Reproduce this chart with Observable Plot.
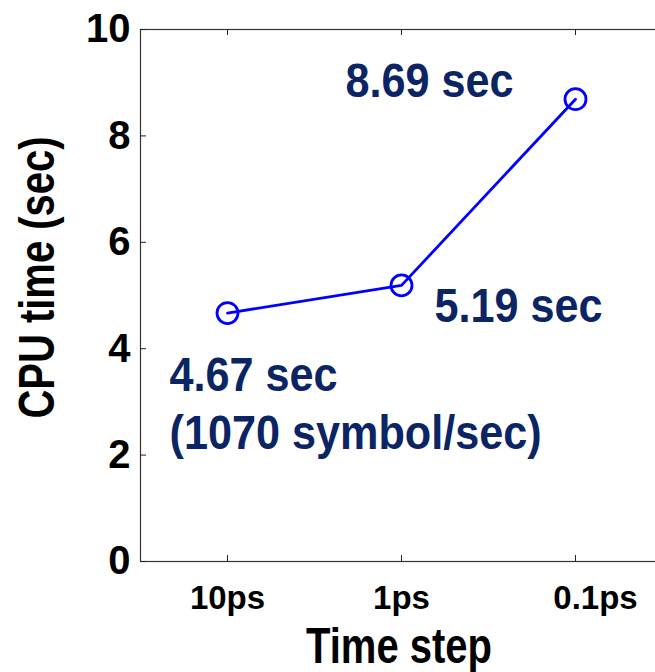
<!DOCTYPE html>
<html>
<head>
<meta charset="utf-8">
<script src="https://cdn.jsdelivr.net/npm/d3@7"></script>
<script src="https://cdn.jsdelivr.net/npm/@observablehq/plot@0.6"></script>
<style>
  html, body { margin: 0; padding: 0; background: #fff; }
  #chart { width: 655px; height: 672px; overflow: hidden; }
</style>
</head>
<body>
<div id="chart"></div>
<script>
// CPU time needed by the simulation for each time step
const steps = ["10ps", "1ps", "0.1ps"];
const cpuTimes = [4.67, 5.19, 8.69];
const symbolRate = 1070; // symbols simulated per second at the 10ps step
const yTicks = [0, 2, 4, 6, 8, 10];

const rows = steps.map((step, i) => ({step, cpu: cpuTimes[i]}));
const navy = "#0a2464";
const blue = "#0000ff";
const font = "'Liberation Sans', Arial, sans-serif";
const secLabel = (i) => `${cpuTimes[i].toFixed(2)} sec`;

const chart = Plot.plot({
  width: 655,
  height: 672,
  marginLeft: 140,
  marginTop: 29,
  marginBottom: 111,
  marginRight: -10,
  style: {fontFamily: font, color: "#000", background: "#fff"},
  x: {type: "point", domain: steps, range: [226, 575], padding: 0, label: null},
  y: {domain: [0, 10], ticks: yTicks, label: null},
  marks: [
    Plot.frame({stroke: "#333", strokeWidth: 1.2}),
    // inward tick marks on the left, bottom and top edges
    Plot.axisY(yTicks, {tickSize: 6, insetLeft: 6, text: null, stroke: "#222", label: null}),
    Plot.axisX(steps, {anchor: "bottom", tickSize: 6, insetBottom: 6, text: null, stroke: "#222", label: null}),
    Plot.axisX(steps, {anchor: "top", tickSize: 5, insetTop: 5, text: null, stroke: "#222", label: null}),
    // tick labels
    Plot.axisY(yTicks, {tickSize: 0, tickPadding: 10, tickFormat: (d) => `${d}`, fontSize: 40, fontWeight: "bold", fill: "#000", label: null}),
    Plot.axisX(steps.slice(0, 2), {anchor: "bottom", tickSize: 0, tickPadding: 24, fontSize: 33, fontWeight: "bold", fill: "#000", label: null}),
    Plot.axisX(steps.slice(2), {anchor: "bottom", tickSize: 0, tickPadding: 24, dx: 20, fontSize: 33, fontWeight: "bold", fill: "#000", label: null}),
    // axis titles
    Plot.text(["Time step"], {frameAnchor: "bottom", textAnchor: "middle", dx: -4, dy: 101, lineAnchor: "bottom", fontSize: 50, fontWeight: "bold", fill: "#000"}),
    Plot.text(["CPU time (sec)"], {frameAnchor: "left", textAnchor: "middle", rotate: -90, dx: -87, dy: -18, lineAnchor: "bottom", fontSize: 50, fontWeight: "bold", fill: "#000"}),
    // the series
    Plot.line(rows, {x: "step", y: "cpu", stroke: blue, strokeWidth: 2.8}),
    Plot.dot(rows, {x: "step", y: "cpu", r: 10.5, stroke: blue, strokeWidth: 2.8, fill: "none"}),
    // value annotations
    Plot.text([0], {x: (i) => steps[i], y: (i) => cpuTimes[i], text: (i) => `${secLabel(i)}\n(${symbolRate} symbol/sec)`,
      dx: -58, dy: 136, textAnchor: "start", lineAnchor: "bottom", lineHeight: 1.2, fontSize: 48, fontWeight: "bold", fill: navy}),
    Plot.text([1], {x: (i) => steps[i], y: (i) => cpuTimes[i], text: secLabel,
      dx: 33, dy: 37, textAnchor: "start", lineAnchor: "bottom", fontSize: 48, fontWeight: "bold", fill: navy}),
    Plot.text([2], {x: (i) => steps[i], y: (i) => cpuTimes[i], text: secLabel,
      dx: -230, dy: -2, textAnchor: "start", lineAnchor: "bottom", fontSize: 48, fontWeight: "bold", fill: navy})
  ]
});

// Narrow the bold lettering of the titles and annotations
const textGroups = chart.querySelectorAll('g[aria-label="text"]');
const narrow = [0.8, 0.8, 0.9, 0.9, 0.9];
textGroups.forEach((g, k) => {
  const s = narrow[k];
  if (!s) return;
  g.querySelectorAll("text").forEach((t) => {
    t.setAttribute("transform", `${t.getAttribute("transform") || ""} scale(${s},1)`);
  });
});

document.getElementById("chart").appendChild(chart);
</script>
</body>
</html>
